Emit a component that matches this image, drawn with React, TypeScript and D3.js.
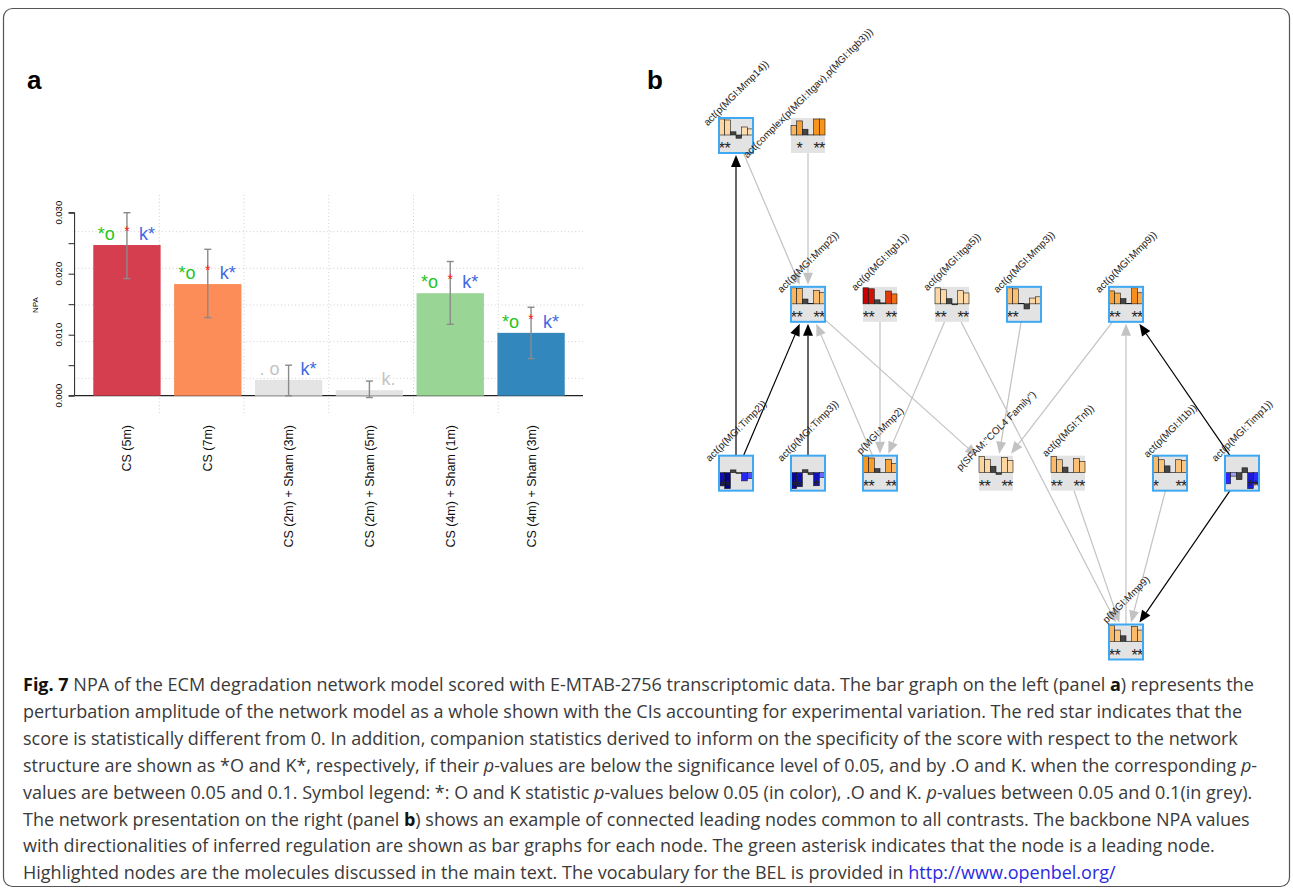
import { useEffect, useRef } from 'react';
import * as d3 from 'd3';

// ---- panel a : network perturbation amplitude per contrast
const contrasts = ['CS (5m)', 'CS (7m)', 'CS (2m) + Sham (3m)', 'CS (2m) + Sham (5m)', 'CS (4m) + Sham (1m)', 'CS (4m) + Sham (3m)'];
const npaValues = [0.0247, 0.0183, 0.0026, 0.0009, 0.0168, 0.0103];
const ciLower = [0.0192, 0.0128, 0.0, -0.0003, 0.0117, 0.0061];
const ciUpper = [0.03, 0.024, 0.005, 0.0024, 0.022, 0.0145];
const npaSignificant = [true, true, false, false, true, true];
// companion statistics: 'sig' = p < 0.05, 'trend' = 0.05 < p < 0.1, 'none'
const oStatus = ['sig', 'sig', 'trend', 'none', 'sig', 'sig'];
const kStatus = ['sig', 'sig', 'sig', 'trend', 'sig', 'sig'];
const yTicks = [0, 0.005, 0.01, 0.015, 0.02, 0.025, 0.03];

// ---- panel b : backbone network, leading nodes
const nodeIds = ['mmp14', 'itgComplex', 'actMmp2', 'itgb1', 'itga5', 'mmp3', 'actMmp9', 'timp2', 'timp3', 'pMmp2', 'col4', 'tnf', 'il1b', 'timp1', 'pMmp9'];
const nodeLabels = [
  'act(p(MGI:Mmp14))',
  'act(complex(p(MGI:Itgav),p(MGI:Itgb3)))',
  'act(p(MGI:Mmp2))',
  'act(p(MGI:Itgb1))',
  'act(p(MGI:Itga5))',
  'act(p(MGI:Mmp3))',
  'act(p(MGI:Mmp9))',
  'act(p(MGI:Timp2))',
  'act(p(MGI:Timp3))',
  'p(MGI:Mmp2)',
  'p(SFAM:"COL4 Family")',
  'act(p(MGI:Tnf))',
  'act(p(MGI:Il1b))',
  'act(p(MGI:Timp1))',
  'p(MGI:Mmp9)',
];
// layout coordinates (graph units) and rank of each node
const nodeLayoutX = [0, 72, 72, 144, 216, 288, 390, 0, 72, 144, 260, 332, 434, 506, 390];
const nodeRank = [0, 0, 1, 1, 1, 1, 1, 2, 2, 2, 2, 2, 2, 2, 3];
const nodeHighlighted = [true, false, true, false, false, true, true, true, true, true, false, false, true, true, true];
// backbone NPA of each node for the 6 contrasts
const nodeScores = [
  [0.5, 0.47, 0.1, -0.1, 0.25, 0.19],
  [1.5, 2.2, 0.9, 0.02, 2.5, 2.5],
  [1.5, 1.42, 0.45, 0.05, 1.25, 1.05],
  [5.0, 4.7, 1.25, 0.3, 4.0, 3.1],
  [0.5, 0.44, 0.16, -0.03, 0.41, 0.34],
  [1.25, 1.17, 0.02, -0.4, 0.45, 0.55],
  [2.1, 1.75, 0.85, 0.08, 2.6, 1.8],
  [-2.9, -3.5, 0.6, -0.15, -1.8, -1.3],
  [-3.3, -2.9, 0.6, -0.4, -2.7, -1.0],
  [2.4, 2.2, 0.6, 0.02, 2.0, 1.4],
  [0.55, 0.45, 0.22, -0.06, 0.52, 0.42],
  [1.3, 1.05, 0.45, 0.02, 1.15, 0.9],
  [1.3, 1.05, 0.55, 0.02, 1.05, 0.98],
  [-1.6, -0.5, -1.0, 0.7, -2.3, -1.6],
  [1.4, 1.0, 0.5, 0.02, 1.3, 1.0],
];
const nodeLeading = [
  [1, 1, 0, 0, 0, 0],
  [0, 1, 0, 0, 1, 1],
  [1, 1, 0, 0, 1, 1],
  [1, 1, 0, 0, 1, 1],
  [1, 1, 0, 0, 1, 1],
  [1, 1, 0, 0, 0, 0],
  [1, 1, 0, 0, 1, 1],
  [1, 1, 0, 0, 0, 0],
  [1, 1, 0, 0, 1, 0],
  [1, 1, 0, 0, 1, 1],
  [1, 1, 0, 0, 1, 1],
  [1, 1, 0, 0, 1, 1],
  [1, 0, 0, 0, 1, 1],
  [0, 0, 0, 0, 1, 1],
  [1, 1, 0, 0, 1, 1],
];
const edgeList = [
  ['mmp14', 'actMmp2', 'increases'],
  ['itgComplex', 'actMmp2', 'increases'],
  ['pMmp2', 'actMmp2', 'increases'],
  ['actMmp2', 'col4', 'increases'],
  ['itgb1', 'pMmp2', 'increases'],
  ['itga5', 'pMmp2', 'increases'],
  ['itga5', 'pMmp9', 'increases'],
  ['mmp3', 'col4', 'increases'],
  ['actMmp9', 'col4', 'increases'],
  ['pMmp9', 'actMmp9', 'increases'],
  ['tnf', 'pMmp9', 'increases'],
  ['il1b', 'pMmp9', 'increases'],
  ['timp2', 'mmp14', 'decreases'],
  ['timp2', 'actMmp2', 'decreases'],
  ['timp3', 'actMmp2', 'decreases'],
  ['timp1', 'actMmp9', 'decreases'],
  ['timp1', 'pMmp9', 'decreases'],
];

// ---- caption (n = normal, b = bold, i = italic, l = link)
const captionLines = [
  [['Fig. 7', 'b'], [' NPA of the ECM degradation network model scored with E-MTAB-2756 transcriptomic data. The bar graph on the left (panel ', 'n'], ['a', 'b'], [') represents the', 'n']],
  [['perturbation amplitude of the network model as a whole shown with the CIs accounting for experimental variation. The red star indicates that the', 'n']],
  [['score is statistically different from 0. In addition, companion statistics derived to inform on the specificity of the score with respect to the network', 'n']],
  [['structure are shown as *O and K*, respectively, if their ', 'n'], ['p', 'i'], ['-values are below the significance level of 0.05, and by .O and K. when the corresponding ', 'n'], ['p', 'i'], ['-', 'n']],
  [['values are between 0.05 and 0.1. Symbol legend: *: O and K statistic ', 'n'], ['p', 'i'], ['-values below 0.05 (in color), .O and K. ', 'n'], ['p', 'i'], ['-values between 0.05 and 0.1(in grey).', 'n']],
  [['The network presentation on the right (panel ', 'n'], ['b', 'b'], [') shows an example of connected leading nodes common to all contrasts. The backbone NPA values', 'n']],
  [['with directionalities of inferred regulation are shown as bar graphs for each node. The green asterisk indicates that the node is a leading node.', 'n']],
  [['Highlighted nodes are the molecules discussed in the main text. The vocabulary for the BEL is provided in ', 'n'], ['http://www.openbel.org/', 'l']],
];

const ARIAL = "'Liberation Sans', Arial, sans-serif";

export default function App() {
  const svgRef = useRef<SVGSVGElement>(null);

  useEffect(() => {
    const svg = d3.select(svgRef.current);
    svg.selectAll('*').remove();

    // rounded frame round the whole figure
    svg.append('rect')
      .attr('x', 3.5).attr('y', 8.5)
      .attr('width', 1286).attr('height', 878)
      .attr('rx', 9)
      .attr('fill', 'none')
      .attr('stroke', '#555')
      .attr('stroke-width', 1.2);

    svg.append('text').attr('x', 27).attr('y', 89)
      .attr('font-family', ARIAL).attr('font-weight', 700).attr('font-size', 26)
      .text('a');
    svg.append('text').attr('x', 647).attr('y', 89)
      .attr('font-family', ARIAL).attr('font-weight', 700).attr('font-size', 26)
      .text('b');

    // ===== panel a
    const y = d3.scaleLinear().domain([0, 0.03]).range([395.7, 212.7]);
    const x = d3.scaleBand<string>().domain(contrasts).range([79.8, 578.2]).paddingInner(1 / 6).paddingOuter(1 / 6);
    const grid = { left: 74.6, right: 583, top: 195, bottom: 415 };
    const spectral = d3.schemeSpectral[6];
    const a = svg.append('g').attr('font-family', ARIAL);

    // dotted grid (6 x 6 cells over the plot region)
    d3.range(1, 6).forEach(i => {
      const gy = grid.top + (grid.bottom - grid.top) * i / 6;
      const gx = grid.left + (grid.right - grid.left) * i / 6;
      a.append('line').attr('x1', grid.left).attr('x2', grid.right).attr('y1', gy).attr('y2', gy)
        .attr('stroke', '#cfcfcf').attr('stroke-dasharray', '1,2.5');
      a.append('line').attr('x1', gx).attr('x2', gx).attr('y1', grid.top).attr('y2', grid.bottom)
        .attr('stroke', '#cfcfcf').attr('stroke-dasharray', '1,2.5');
    });

    a.append('line')
      .attr('x1', grid.left).attr('x2', grid.right)
      .attr('y1', y(0)).attr('y2', y(0))
      .attr('stroke', '#222').attr('stroke-width', 1.3);

    a.selectAll('.bar')
      .data(contrasts)
      .enter()
      .append('rect')
      .attr('class', 'bar')
      .attr('x', d => x(d)!)
      .attr('width', x.bandwidth())
      .attr('y', (d, i) => y(npaValues[i]))
      .attr('height', (d, i) => y(0) - y(npaValues[i]))
      .attr('fill', (d, i) => (npaSignificant[i] ? spectral[i] : '#e4e4e4'));

    // confidence intervals
    contrasts.forEach((c, i) => {
      const cx = x(c)! + x.bandwidth() / 2;
      const eb = a.append('g').attr('stroke', '#8a8a8a').attr('stroke-width', 1.4);
      eb.append('line').attr('x1', cx).attr('x2', cx).attr('y1', y(ciLower[i])).attr('y2', y(ciUpper[i]));
      eb.append('line').attr('x1', cx - 3.5).attr('x2', cx + 3.5).attr('y1', y(ciLower[i])).attr('y2', y(ciLower[i]));
      eb.append('line').attr('x1', cx - 3.5).attr('x2', cx + 3.5).attr('y1', y(ciUpper[i])).attr('y2', y(ciUpper[i]));
    });

    // significance symbols above the bars
    contrasts.forEach((c, i) => {
      const left = x(c)!;
      const cx = left + x.bandwidth() / 2;
      const base = y(npaValues[i]) - 5;
      if (oStatus[i] !== 'none') {
        a.append('text').attr('x', left + 4.5).attr('y', base)
          .attr('font-size', 18)
          .attr('fill', oStatus[i] === 'sig' ? '#25c425' : '#c4c4c4')
          .style('white-space', 'pre')
          .text(oStatus[i] === 'sig' ? '*o' : '. o');
      }
      if (npaSignificant[i]) {
        a.append('text').attr('x', cx).attr('y', base - 4)
          .attr('text-anchor', 'middle')
          .attr('font-size', 14)
          .attr('fill', '#ff1a1a')
          .text('*');
      }
      if (kStatus[i] !== 'none') {
        a.append('text').attr('x', cx + 12).attr('y', base)
          .attr('font-size', 18)
          .attr('fill', kStatus[i] === 'sig' ? '#4169e1' : '#c4c4c4')
          .text(kStatus[i] === 'sig' ? 'k*' : 'k.');
      }
    });

    // y axis (R style, labels parallel to the axis)
    const yAxis = d3.axisLeft(y).tickValues(yTicks).tickSize(6).tickFormat(() => '');
    const ya = a.append('g').attr('transform', `translate(${grid.left}, 0)`).call(yAxis);
    ya.select('.domain').attr('d', `M-6,${y(0)}H0V${y(0.03)}H-6`).attr('stroke', '#222');
    ya.selectAll('.tick line').attr('stroke', '#222');
    yTicks.filter((t, i) => i % 2 === 0).forEach(t => {
      a.append('text')
        .attr('transform', `translate(62, ${y(t)}) rotate(-90)`)
        .attr('text-anchor', 'middle')
        .attr('font-size', 9.5)
        .text(d3.format('.3f')(t));
    });
    a.append('text')
      .attr('transform', 'translate(38, 305) rotate(-90)')
      .attr('text-anchor', 'middle')
      .attr('font-size', 8)
      .text('NPA');

    // contrast names, rotated
    a.selectAll('.xlab')
      .data(contrasts)
      .enter()
      .append('text')
      .attr('class', 'xlab')
      .attr('transform', d => `translate(${x(d)! + x.bandwidth() / 2 + 4.5}, 425) rotate(-90)`)
      .attr('text-anchor', 'end')
      .attr('font-size', 12.5)
      .attr('fill', '#111')
      .text(d => d);

    // ===== panel b
    const nx = d3.scaleLinear().domain([0, 506]).range([736, 1242]);
    const ny = d3.scalePoint<number>().domain([0, 1, 2, 3]).range([135.5, 642]);
    const boxW = 34;
    const boxH = 35;
    const baseY = 17;
    const posColor = d3.scaleLinear<string>().domain([0, 2.5, 5]).range(['#fee6c2', '#f7941d', '#cc0000']).clamp(true);
    const negColor = d3.scaleLinear<string>().domain([0, 1.6, 3.5]).range(['#d4d4ff', '#2b2bff', '#00008b']).clamp(true);

    const nodes = nodeIds.map((id, i) => ({
      id,
      label: nodeLabels[i],
      cx: nx(nodeLayoutX[i]),
      cy: ny(nodeRank[i])!,
      highlighted: nodeHighlighted[i],
      scores: nodeScores[i],
      leading: nodeLeading[i],
    }));
    const byId = new Map(nodes.map(n => [n.id, n]));

    // point where the line toward (tx, ty) leaves the node box
    const boxExit = (n: any, tx: number, ty: number, pad: number) => {
      const dx = tx - n.cx;
      const dy = ty - n.cy;
      const s = Math.min((boxW / 2 + pad) / Math.abs(dx || 1e-9), (boxH / 2 + pad) / Math.abs(dy || 1e-9));
      return [n.cx + dx * s, n.cy + dy * s];
    };

    const b = svg.append('g').attr('font-family', ARIAL);
    const edgeG = b.append('g');
    edgeList.forEach(([s, t, rel]) => {
      const src = byId.get(s)!;
      const tgt = byId.get(t)!;
      const start = boxExit(src, tgt.cx, tgt.cy, 0);
      const tip = boxExit(tgt, src.cx, src.cy, 2);
      const ang = Math.atan2(tip[1] - start[1], tip[0] - start[0]);
      const len = 12;
      const half = 5;
      const back = [tip[0] - len * Math.cos(ang), tip[1] - len * Math.sin(ang)];
      const color = rel === 'decreases' ? '#000' : '#c2c2c2';
      edgeG.append('line')
        .attr('x1', start[0]).attr('y1', start[1])
        .attr('x2', back[0]).attr('y2', back[1])
        .attr('stroke', color)
        .attr('stroke-width', 1.2);
      const px = -Math.sin(ang) * half;
      const py = Math.cos(ang) * half;
      edgeG.append('path')
        .attr('d', `M${tip[0]},${tip[1]}L${back[0] + px},${back[1] + py}L${back[0] - px},${back[1] - py}Z`)
        .attr('fill', color);
    });

    nodes.forEach(n => {
      const left = n.cx - boxW / 2;
      const top = n.cy - boxH / 2;
      const ng = b.append('g').attr('transform', `translate(${left}, ${top})`);
      ng.append('rect')
        .attr('width', boxW).attr('height', boxH)
        .attr('fill', '#e3e3e3');
      const bx = d3.scaleBand<number>().domain(d3.range(6)).range([0, boxW]);
      const maxAbs = d3.max(n.scores, v => Math.abs(v))!;
      const bh = d3.scaleLinear().domain([0, maxAbs]).range([0, 16]);
      ng.selectAll('.mini')
        .data(n.scores)
        .enter()
        .append('rect')
        .attr('class', 'mini')
        .attr('x', (d, i) => bx(i)!)
        .attr('width', bx.bandwidth())
        .attr('y', d => (d >= 0 ? baseY - bh(d) : baseY))
        .attr('height', d => bh(Math.abs(d)))
        .attr('fill', (d, i) => (!npaSignificant[i] ? '#444' : d >= 0 ? posColor(d) : negColor(-d)))
        .attr('stroke', '#1a1a1a')
        .attr('stroke-width', 0.6);
      n.leading.forEach((l, i) => {
        if (!l) return;
        ng.append('text')
          .attr('x', bx(i)! + bx.bandwidth() / 2)
          .attr('y', 36)
          .attr('text-anchor', 'middle')
          .attr('font-size', 16)
          .attr('fill', '#222')
          .text('*');
      });
      if (n.highlighted) {
        ng.append('rect')
          .attr('width', boxW).attr('height', boxH)
          .attr('fill', 'none')
          .attr('stroke', '#3ea8f2')
          .attr('stroke-width', 2);
      }
      b.append('text')
        .attr('transform', `translate(${n.cx}, ${top - 25}) rotate(-45)`)
        .attr('text-anchor', 'middle')
        .attr('dy', '0.35em')
        .attr('font-size', 10)
        .attr('fill', '#222')
        .text(n.label);
    });

    // ===== caption
    const cap = svg.append('g')
      .attr('font-family', "'Open Sans', 'Noto Sans', sans-serif")
      .attr('font-size', 18)
      .attr('fill', '#3a3a3a');
    captionLines.forEach((segs, i) => {
      const t = cap.append('text')
        .attr('x', 23)
        .attr('y', 691 + i * 26.9)
        .style('white-space', 'pre');
      segs.forEach(([s, st]) => {
        const sp = t.append('tspan').text(s);
        if (st === 'b') sp.attr('font-weight', 700).attr('fill', '#111');
        if (st === 'i') sp.attr('font-style', 'italic');
        if (st === 'l') sp.attr('fill', '#2a2ae0');
      });
    });
  }, []);

  return (
    <svg
      ref={svgRef}
      width={1293}
      height={890}
      style={{ position: 'absolute', left: 0, top: 0, background: '#fff' }}
    />
  );
}
